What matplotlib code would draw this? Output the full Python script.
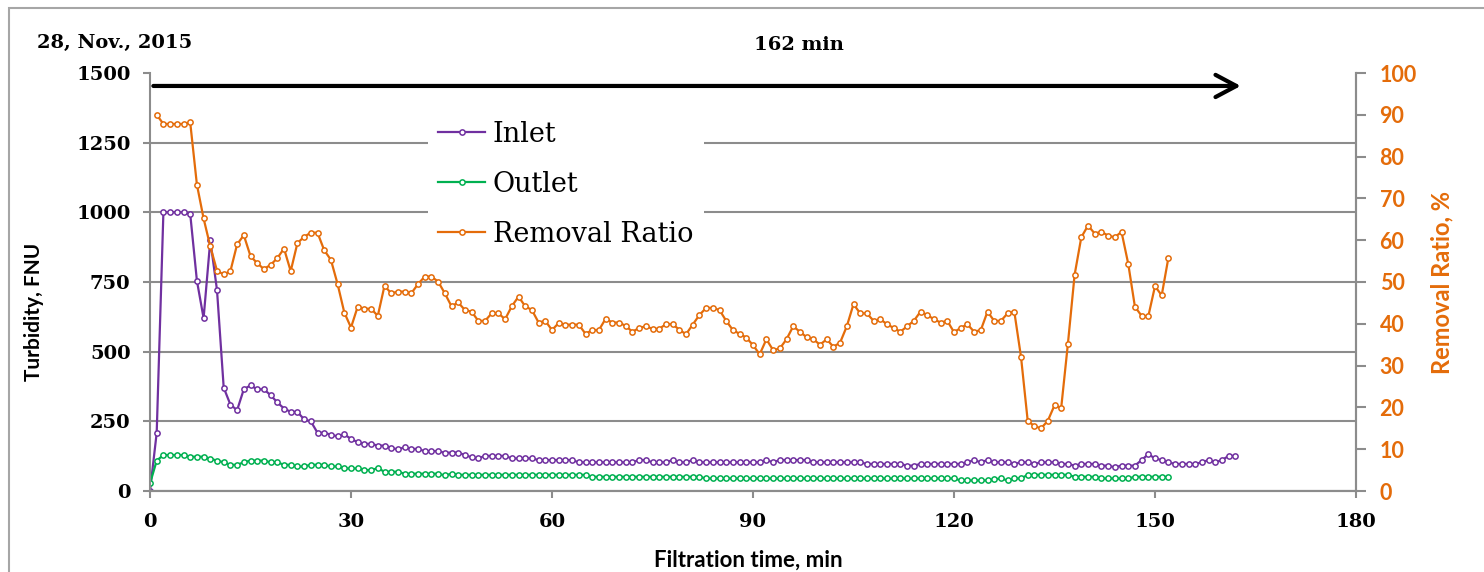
import numpy as np
import matplotlib
matplotlib.use('Agg')
from matplotlib import pyplot as plt
from matplotlib.patches import Rectangle

# filtration run of 28 Nov 2015, one reading per minute
duration = 162
t_inlet = np.arange(0, 163)
inlet = [0, 209, 1000, 1000, 1000, 1000, 995, 755, 620, 900,
         721, 371, 310, 290, 365, 379, 365, 365, 344, 318,
         296, 284, 284, 257, 250, 209, 209, 202, 196, 203,
         187, 175, 169, 169, 163, 163, 155, 149, 157, 151,
         151, 143, 143, 143, 137, 138, 138, 129, 121, 117,
         126, 126, 126, 126, 117, 117, 117, 117, 111, 111,
         111, 111, 111, 111, 103, 103, 103, 103, 103, 103,
         103, 103, 103, 111, 111, 103, 103, 103, 111, 103,
         103, 111, 103, 103, 103, 103, 103, 103, 103, 103,
         103, 103, 111, 103, 111, 111, 111, 111, 111, 103,
         103, 103, 103, 103, 103, 103, 103, 97, 97, 97,
         97, 97, 97, 91, 91, 97, 97, 97, 97, 97,
         97, 97, 103, 111, 103, 111, 103, 103, 103, 97,
         103, 103, 97, 103, 103, 103, 97, 97, 91, 97,
         97, 97, 91, 91, 85, 91, 91, 91, 111, 132,
         117, 111, 103, 97, 97, 97, 97, 103, 111, 103,
         111, 126, 126]

t_outlet = np.arange(0, 153)
outlet = [27, 109, 129, 129, 129, 129, 123, 123, 123, 116,
          109, 103, 94, 94, 103, 109, 109, 109, 103, 103,
          94, 94, 88, 88, 94, 94, 94, 88, 88, 81,
          81, 81, 75, 75, 82, 69, 69, 69, 62, 62,
          62, 62, 62, 62, 56, 62, 58, 58, 58, 58,
          58, 58, 58, 58, 58, 58, 58, 58, 58, 58,
          58, 58, 58, 58, 58, 58, 51, 51, 51, 51,
          51, 51, 51, 51, 51, 51, 51, 51, 51, 51,
          51, 51, 51, 45, 45, 45, 45, 45, 45, 45,
          45, 45, 45, 45, 45, 45, 45, 45, 45, 45,
          45, 45, 45, 45, 45, 45, 45, 45, 45, 45,
          45, 45, 45, 45, 45, 45, 45, 45, 45, 45,
          45, 38, 38, 38, 38, 38, 42, 45, 38, 45,
          45, 58, 58, 58, 58, 58, 58, 58, 51, 51,
          51, 51, 45, 45, 45, 45, 45, 51, 51, 51,
          51, 51, 51]

t_ratio = np.arange(1, 153)
ratio = [90.0, 87.8, 87.8, 87.8, 87.8, 88.2, 73.3, 65.2, 58.5, 52.7,
         51.8, 52.6, 59.0, 61.2, 56.2, 54.5, 53.1, 54.1, 55.7, 58.0,
         52.6, 59.3, 60.8, 61.8, 61.8, 57.6, 55.3, 49.5, 42.7, 39.1,
         44.1, 43.6, 43.6, 41.9, 49.1, 47.3, 47.7, 47.7, 47.3, 49.5,
         51.3, 51.3, 50.1, 47.3, 44.2, 45.1, 43.3, 42.9, 40.7, 40.7,
         42.5, 42.5, 41.1, 44.2, 46.5, 44.2, 43.3, 40.3, 40.7, 38.5,
         40.2, 39.8, 39.8, 39.8, 37.6, 38.5, 38.5, 41.2, 40.3, 40.3,
         39.5, 38.1, 39.0, 39.4, 38.8, 38.8, 39.9, 39.9, 38.6, 37.5,
         39.8, 42.1, 43.8, 43.8, 43.3, 40.7, 38.5, 37.6, 36.7, 34.9,
         32.7, 36.3, 33.7, 34.1, 36.3, 39.4, 38.1, 36.8, 36.3, 35.0,
         36.3, 34.5, 35.5, 39.4, 44.7, 42.5, 42.5, 40.7, 41.1, 39.9,
         39.0, 38.1, 39.4, 40.7, 42.9, 42.1, 41.1, 40.3, 40.7, 38.0,
         39.0, 39.9, 38.1, 38.5, 42.9, 40.7, 40.7, 42.5, 42.9, 32.1,
         16.8, 15.5, 15.0, 16.8, 20.5, 19.9, 35.2, 51.7, 60.7, 63.5,
         61.6, 62.0, 61.1, 60.7, 62.0, 54.4, 44.1, 41.9, 41.8, 49.0,
         46.8, 55.8]

serif = 'DejaVu Serif'
sans = 'Lato'
grey = '#8c8c8c'
orange = '#E46C0A'

fig = plt.figure(figsize=(14.84, 5.72), dpi=100)
fig.patches.append(Rectangle((9 / 1484, -0.1), 1.2, 1.1 - 8 / 572,
                             transform=fig.transFigure, fill=False,
                             edgecolor='#a6a6a6', lw=1.5))

ax = fig.add_axes([150 / 1484, 81 / 572, 1206 / 1484, 418 / 572])
ax2 = ax.twinx()

style = dict(lw=1.6, marker='o', ms=3.8, mfc='white', mew=1.1)
l1, = ax.plot(t_inlet, inlet, color='#7030A0', label='Inlet', **style)
l2, = ax.plot(t_outlet, outlet, color='#00B050', label='Outlet', **style)
l3, = ax2.plot(t_ratio, ratio, color=orange, label='Removal Ratio', **style)

ax.set_xlim(0, 180)
ax.set_xticks(range(0, 181, 30))
ax.set_ylim(0, 1500)
ax.set_yticks(range(0, 1501, 250))
ax2.set_ylim(0, 100)
ax2.set_yticks(range(0, 101, 10))

ax.set_axisbelow(True)
ax.yaxis.grid(True, color=grey, lw=1.5)
ax.yaxis.get_gridlines()[-1].set_visible(False)

for a in (ax, ax2):
    a.spines['top'].set_visible(False)
    for s in ('left', 'bottom', 'right'):
        a.spines[s].set_color(grey)
        a.spines[s].set_linewidth(1.5)
ax2.spines['left'].set_visible(False)

ax.tick_params(axis='y', length=5, width=1.5, color=grey, labelsize=14, pad=9)
ax.tick_params(axis='x', length=5, width=1.5, color=grey, labelsize=14, pad=11)
ax2.tick_params(axis='y', length=7, width=1.5, color=grey, labelsize=15.5,
                labelcolor=orange, pad=10)
for lab in ax.get_xticklabels() + ax.get_yticklabels():
    lab.set_fontfamily(serif)
    lab.set_fontweight('bold')
for lab in ax2.get_yticklabels():
    lab.set_fontfamily(sans)
    lab.set_fontweight('bold')

ax.set_ylabel('Turbidity, FNU', fontfamily=sans, fontweight='bold', fontsize=15)
ax.yaxis.set_label_coords(-0.088, 0.428)
ax.set_xlabel('Filtration time, min', fontfamily=sans, fontweight='bold', fontsize=16)
ax.xaxis.set_label_coords(0.496, -0.141)
ax2.set_ylabel('Removal Ratio, %', fontfamily=sans, fontweight='bold',
               fontsize=17, color=orange)
ax2.yaxis.set_label_coords(1.062, 0.498)

# run-length arrow along the top
ax.annotate('', xy=(duration + 0.8, 0.969), xytext=(0.5, 0.969),
            xycoords=('data', 'axes fraction'),
            textcoords=('data', 'axes fraction'),
            arrowprops=dict(arrowstyle='->,head_length=0.75,head_width=0.4',
                            lw=3, color='black', mutation_scale=20,
                            shrinkA=0, shrinkB=0))
fig.text(799 / 1484, 1 - 45 / 572, f'{duration} min', ha='center', va='center',
         fontfamily=serif, fontweight='bold', fontsize=14)
fig.text(37 / 1484, 1 - 43 / 572, '28, Nov., 2015', ha='left', va='center',
         fontfamily=serif, fontweight='bold', fontsize=14)

leg = ax2.legend([l1, l2, l3], ['Inlet', 'Outlet', 'Removal Ratio'],
                 loc='upper left', bbox_to_anchor=(0.219, 0.944),
                 prop={'family': serif, 'size': 19.5}, frameon=True,
                 facecolor='white', edgecolor='none', framealpha=1,
                 fancybox=False, handlelength=1.7, handletextpad=0.3,
                 labelspacing=0.85, borderpad=0.4)

fig.savefig('out.png', dpi=100)
